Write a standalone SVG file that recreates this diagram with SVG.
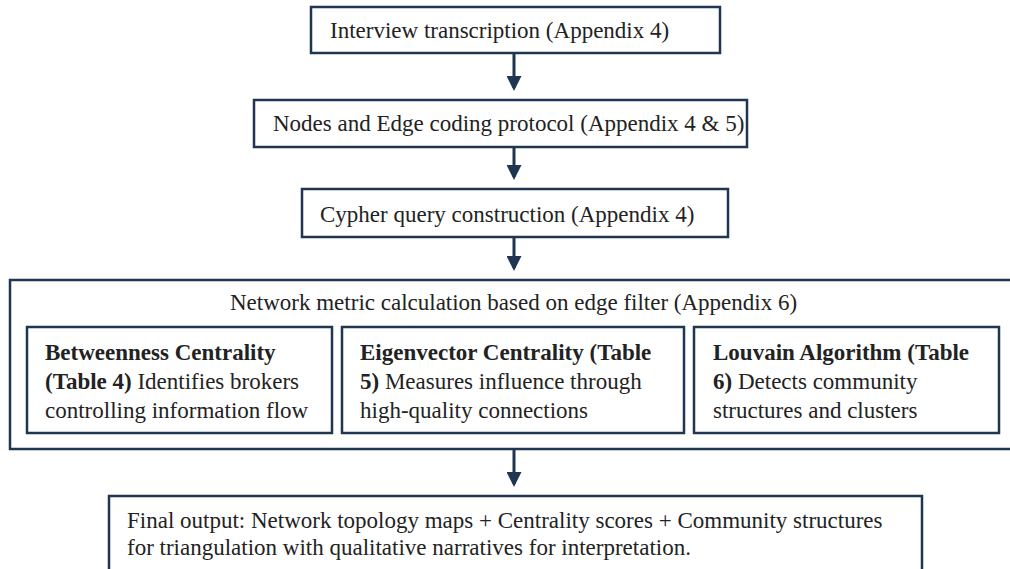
<svg xmlns="http://www.w3.org/2000/svg" width="1010" height="569" viewBox="0 0 1010 569">
<style>
.box{fill:#fff;stroke:#1f3552;stroke-width:2.5}
.t{font-family:"Liberation Serif",serif;font-size:23px;fill:#222}
.b{font-weight:bold}
.c{stroke:#1f3552;stroke-width:3;fill:none}
</style>
<defs>
<marker id="ah" markerWidth="5" markerHeight="5" refX="4" refY="2.5" orient="auto" markerUnits="strokeWidth">
<path d="M0,0 L5,2.5 L0,5 Z" fill="#1f3552"/>
</marker>
</defs>
<rect width="1010" height="569" fill="#fff"/>
<g id="n1"><rect class="box" x="311" y="7" width="409" height="46"/>
<text class="t" x="330" y="38">Interview transcription (Appendix 4)</text></g>
<g id="n2"><rect class="box" x="254" y="100" width="493" height="47"/>
<text class="t" x="273" y="131">Nodes and Edge coding protocol (Appendix 4 &amp; 5)</text></g>
<g id="n3"><rect class="box" x="302" y="189" width="426" height="48"/>
<text class="t" x="320" y="222">Cypher query construction (Appendix 4)</text></g>
<g id="n4"><rect class="box" x="10" y="280" width="1010" height="169"/>
<text class="t" x="230" y="310">Network metric calculation based on edge filter (Appendix 6)</text></g>
<g id="n5"><rect class="box" x="27" y="327" width="305" height="106"/>
<text class="t" x="45" y="360"><tspan class="b">Betweenness Centrality</tspan></text>
<text class="t" x="45" y="389"><tspan class="b">(Table 4)</tspan> Identifies brokers</text>
<text class="t" x="45" y="418">controlling information flow</text></g>
<g id="n6"><rect class="box" x="342" y="327" width="342" height="106"/>
<text class="t" x="360" y="360"><tspan class="b">Eigenvector Centrality (Table</tspan></text>
<text class="t" x="360" y="389"><tspan class="b">5)</tspan> Measures influence through</text>
<text class="t" x="360" y="418">high-quality connections</text></g>
<g id="n7"><rect class="box" x="694" y="327" width="305" height="106"/>
<text class="t" x="713" y="360"><tspan class="b">Louvain Algorithm (Table</tspan></text>
<text class="t" x="713" y="389"><tspan class="b">6)</tspan> Detects community</text>
<text class="t" x="713" y="418">structures and clusters</text></g>
<g id="n8"><rect class="box" x="109" y="496" width="813" height="90"/>
<text class="t" x="127" y="528">Final output: Network topology maps + Centrality scores + Community structures</text>
<text class="t" x="127" y="555">for triangulation with qualitative narratives for interpretation.</text></g>
<g id="connectors">
<line class="c" x1="514" y1="53" x2="514" y2="88" marker-end="url(#ah)"/>
<line class="c" x1="514" y1="147" x2="514" y2="177" marker-end="url(#ah)"/>
<line class="c" x1="514" y1="237" x2="514" y2="268" marker-end="url(#ah)"/>
<line class="c" x1="514" y1="449" x2="514" y2="484" marker-end="url(#ah)"/>
</g>
</svg>
